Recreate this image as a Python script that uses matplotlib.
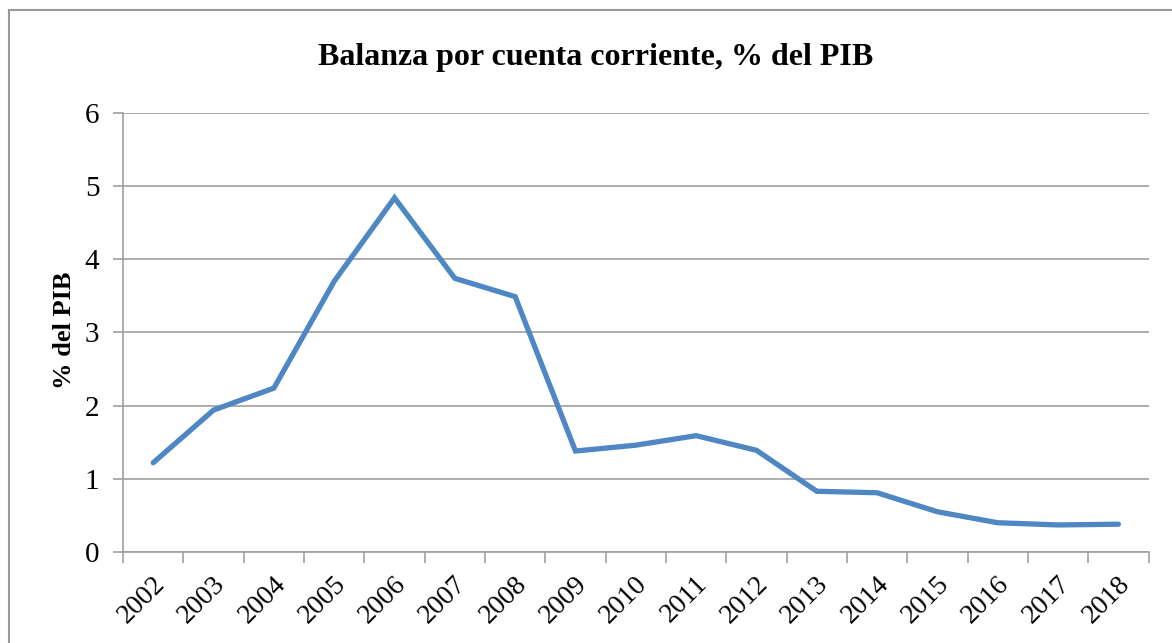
import numpy as np
import matplotlib.pyplot as plt
import matplotlib.transforms as mtransforms
from matplotlib.lines import Line2D

# Balanza por cuenta corriente (% del PIB)
years = ['2002', '2003', '2004', '2005', '2006', '2007', '2008', '2009', '2010',
         '2011', '2012', '2013', '2014', '2015', '2016', '2017', '2018']
values = [1.22, 1.94, 2.24, 3.70, 4.84, 3.74, 3.49, 1.38, 1.46,
          1.59, 1.39, 0.83, 0.81, 0.55, 0.40, 0.37, 0.38]

plt.rcParams['font.family'] = ['Liberation Serif', 'DejaVu Serif']

fig = plt.figure(figsize=(11.72, 6.43), dpi=100)
ax = fig.add_axes([0.105, 0.1415, 0.875, 0.6828])

grid_col = '#A0A0A0'
x = np.arange(len(years))
ax.plot(x, values, color='#4F86C4', linewidth=3.8, solid_joinstyle='miter',
        solid_capstyle='round', zorder=3)

ax.set_xlim(-0.5, len(years) - 0.5)
ax.set_ylim(0, 6)
ax.set_yticks(range(0, 7))
ax.yaxis.grid(True, color=grid_col, linewidth=1.2)
ax.set_axisbelow(True)

# category labels centred, tick marks on the boundaries
ax.set_xticks(x)
ax.set_xticklabels(years, rotation=45, fontsize=20)
ax.tick_params(axis='x', length=0, pad=14)
ax.set_xticks(np.arange(-0.5, len(years)), minor=True)
ax.tick_params(axis='x', which='minor', length=8, width=1.2, color=grid_col)
ax.tick_params(axis='y', length=7, width=1.2, color=grid_col, labelsize=21, pad=10)
offset = mtransforms.ScaledTranslation(-1 / 100, 0, fig.dpi_scale_trans)
for lab in ax.get_xticklabels():
    lab.set_ha('right')
    lab.set_va('top')
    lab.set_rotation_mode('anchor')
    lab.set_transform(lab.get_transform() + offset)

for s in ['top', 'right']:
    ax.spines[s].set_visible(False)
for s in ['left', 'bottom']:
    ax.spines[s].set_color(grid_col)
    ax.spines[s].set_linewidth(1.2)

ax.set_ylabel('% del PIB', fontsize=19, fontweight='bold')
ax.yaxis.label.set_va('center')
ax.yaxis.set_label_coords(-0.0575, 0.505)
fig.text(0.508, 0.911, 'Balanza por cuenta corriente, % del PIB',
         ha='center', va='center', fontsize=23, fontweight='bold')

# outer chart border (left and top visible)
fig.add_artist(Line2D([0.0075, 0.0075], [0, 0.984], color='#999999', linewidth=1.5))
fig.add_artist(Line2D([0.0075, 0.999], [0.984, 0.984], color='#999999', linewidth=1.5))

fig.savefig('out.png', dpi=100)
